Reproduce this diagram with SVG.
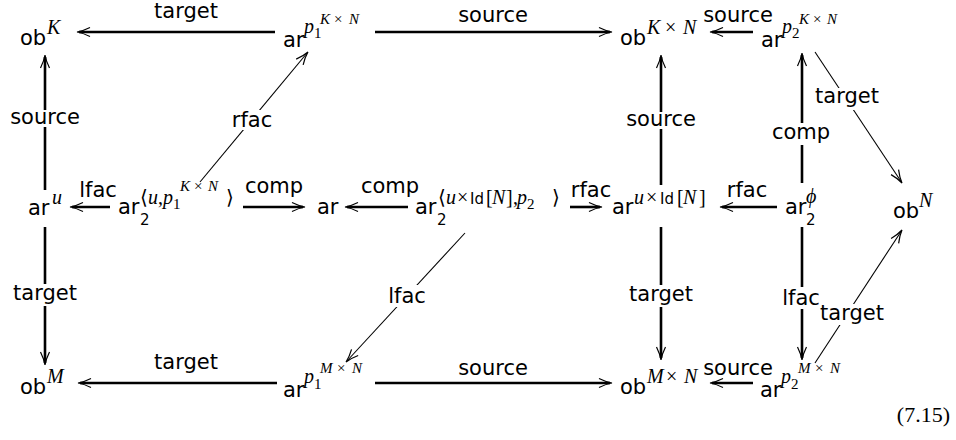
<svg xmlns="http://www.w3.org/2000/svg" width="956" height="440" viewBox="0 0 956 440">
<style>
.t{font-family:"DejaVu Sans",sans-serif;font-size:21px;fill:#000}
.c{text-anchor:middle}
.m{font-family:"Liberation Serif","DejaVu Serif",serif;font-style:italic;font-size:20px;fill:#000}
.s{font-size:15px}
.r{font-style:normal}
.sf{font-family:"DejaVu Sans",sans-serif;font-style:normal;font-size:15px}
.ab{font-family:"DejaVu Sans",sans-serif;font-style:normal;font-size:20px}
.k{stroke:#000;stroke-width:2.6;fill:none}
.d{stroke:#000;stroke-width:1.1;fill:none}
.ko{fill:#fff}
.eq{font-family:"Liberation Serif",serif;font-size:22px;text-anchor:end;fill:#000}
</style>
<defs>
<marker id="ah" markerUnits="userSpaceOnUse" viewBox="-14 -6 17 12" refX="0" refY="0" markerWidth="17" markerHeight="12" orient="auto" overflow="visible"><path d="M-11,-4.5 Q-4,-1 2,0 Q-4,1 -11,4.5" fill="none" stroke="#000" stroke-width="1.2"/></marker>
</defs>
<rect width="956" height="440" fill="#fff"/>
<g id="connectors">
<g id="e-target-top"><path class="k" d="M275,32H79" marker-end="url(#ah)"/><text class="t c" x="186" y="18">target</text></g>
<g id="e-source-top"><path class="k" d="M375,32H610" marker-end="url(#ah)"/><text class="t c" x="493" y="22">source</text></g>
<g id="e-source-topr"><path class="k" d="M753,32H712" marker-end="url(#ah)"/><text class="t c" x="738" y="22">source</text></g>
<g id="e-lfac-mid"><path class="k" d="M110,207H72" marker-end="url(#ah)"/><text class="t c" x="98" y="197">lfac</text></g>
<g id="e-comp-r"><path class="k" d="M243,207H303" marker-end="url(#ah)"/><text class="t c" x="274" y="193">comp</text></g>
<g id="e-comp-l"><path class="k" d="M408,207H347" marker-end="url(#ah)"/><text class="t c" x="390" y="193">comp</text></g>
<g id="e-rfac-r"><path class="k" d="M570,207H600" marker-end="url(#ah)"/><text class="t c" x="591" y="197">rfac</text></g>
<g id="e-rfac-l"><path class="k" d="M777,207H722" marker-end="url(#ah)"/><text class="t c" x="747" y="197">rfac</text></g>
<g id="e-target-bot"><path class="k" d="M277,383H80" marker-end="url(#ah)"/><text class="t c" x="186" y="369">target</text></g>
<g id="e-source-bot"><path class="k" d="M375,383H610" marker-end="url(#ah)"/><text class="t c" x="493" y="375">source</text></g>
<g id="e-source-botr"><path class="k" d="M753,383H712" marker-end="url(#ah)"/><text class="t c" x="738" y="375">source</text></g>
<g id="e-source-c1"><path class="k" d="M45,190V57" marker-end="url(#ah)"/><rect class="ko" x="10" y="110" width="70" height="17"/><text class="t c" x="45" y="124">source</text></g>
<g id="e-target-c1"><path class="k" d="M45,227V363" marker-end="url(#ah)"/><rect class="ko" x="12" y="284" width="66" height="22"/><text class="t c" x="45" y="300">target</text></g>
<g id="e-source-c3"><path class="k" d="M661,185V57" marker-end="url(#ah)"/><rect class="ko" x="626" y="112" width="70" height="17"/><text class="t c" x="661" y="126">source</text></g>
<g id="e-target-c3"><path class="k" d="M661,227V358" marker-end="url(#ah)"/><rect class="ko" x="628" y="285" width="66" height="22"/><text class="t c" x="661" y="301">target</text></g>
<g id="e-comp-c4"><path class="k" d="M802,183V55" marker-end="url(#ah)"/><rect class="ko" x="771" y="123" width="62" height="22"/><text class="t c" x="801" y="139">comp</text></g>
<g id="e-lfac-c4"><path class="k" d="M802,227V358" marker-end="url(#ah)"/><rect class="ko" x="781" y="287" width="41" height="22"/><text class="t c" x="801" y="305">lfac</text></g>
<g id="e-rfac-diag"><path class="d" d="M200,182L306.7,53.5" marker-end="url(#ah)"/><rect class="ko" x="231" y="110" width="42" height="20"/><text class="t c" x="252" y="127">rfac</text></g>
<g id="e-lfac-diag"><path class="d" d="M465,233L347.4,360.5" marker-end="url(#ah)"/><rect class="ko" x="386" y="285" width="43" height="22"/><text class="t c" x="407" y="303">lfac</text></g>
<g id="e-target-diag1"><path class="d" d="M815,52L900.9,181.3" marker-end="url(#ah)"/><rect class="ko" x="814" y="88" width="66" height="22"/><text class="t c" x="847" y="103">target</text></g>
<g id="e-target-diag2"><path class="d" d="M815,363L900.9,231.7" marker-end="url(#ah)"/><rect class="ko" x="820" y="304" width="64" height="21"/><text class="t c" x="852" y="320">target</text></g>
</g>
<g id="n-obK"><text class="t" x="20" y="45">ob</text><text class="m" x="47" y="34">K</text></g>
<g id="n-ar-p1KN"><text class="t" x="283" y="47">ar</text><text class="m" x="304" y="33">p</text><text class="m r s" x="314" y="38">1</text><text class="m s" y="24"><tspan x="320">K</tspan><tspan class="r" x="334">×</tspan><tspan x="349">N</tspan></text></g>
<g id="n-obKN"><text class="t" x="620" y="45">ob</text><text class="m" y="34"><tspan x="647">K</tspan><tspan class="r" x="665">×</tspan><tspan x="683">N</tspan></text></g>
<g id="n-ar-p2KN"><text class="t" x="761" y="47">ar</text><text class="m" x="782" y="33">p</text><text class="m r s" x="792" y="38">2</text><text class="m s" y="24"><tspan x="799">K</tspan><tspan class="r" x="813">×</tspan><tspan x="827">N</tspan></text></g>
<g id="n-ar-u"><text class="t" x="28" y="215">ar</text><text class="m" x="52" y="204">u</text></g>
<g id="n-ar2-up1"><text class="t" x="118" y="214">ar</text><text class="sf" x="140" y="225">2</text><text class="m" y="204"><tspan class="ab" x="140">⟨</tspan><tspan x="148">u</tspan><tspan class="r" x="158">,</tspan><tspan x="163">p</tspan></text><text class="m r s" x="173" y="209">1</text><text class="m s" y="191"><tspan x="180">K</tspan><tspan class="r" x="194">×</tspan><tspan x="208">N</tspan></text><text class="ab" x="226" y="204">⟩</text></g>
<g id="n-ar"><text class="t" x="317" y="214">ar</text></g>
<g id="n-ar2-uId"><text class="t" x="415" y="214">ar</text><text class="sf" x="437" y="225">2</text><text class="m" y="204"><tspan class="ab" x="438">⟨</tspan><tspan x="446">u</tspan><tspan class="r" x="457">×</tspan><tspan class="sf" x="470">Id</tspan><tspan class="r" x="486">[</tspan><tspan x="492">N</tspan><tspan class="r" x="506">]</tspan><tspan class="r" x="513">,</tspan><tspan x="517">p</tspan></text><text class="m r s" x="527" y="209">2</text><text class="ab" x="552" y="204">⟩</text></g>
<g id="n-ar-uId"><text class="t" x="612" y="214">ar</text><text class="m" y="204"><tspan x="634">u</tspan><tspan class="r" x="646">×</tspan><tspan class="sf" x="660">Id</tspan><tspan class="r" x="677">[</tspan><tspan x="683">N</tspan><tspan class="r" x="699">]</tspan></text></g>
<g id="n-ar2-phi"><text class="t" x="785" y="214">ar</text><text class="m" x="806" y="203">ϕ</text><text class="sf" x="806" y="225">2</text></g>
<g id="n-obN"><text class="t" x="893" y="218">ob</text><text class="m" x="919" y="207">N</text></g>
<g id="n-obM"><text class="t" x="20" y="394">ob</text><text class="m" x="47" y="383">M</text></g>
<g id="n-ar-p1MN"><text class="t" x="283" y="397">ar</text><text class="m" x="304" y="383">p</text><text class="m r s" x="314" y="389">1</text><text class="m s" y="373"><tspan x="320">M</tspan><tspan class="r" x="337">×</tspan><tspan x="352">N</tspan></text></g>
<g id="n-obMN"><text class="t" x="620" y="394">ob</text><text class="m" y="383"><tspan x="647">M</tspan><tspan class="r" x="666">×</tspan><tspan x="684">N</tspan></text></g>
<g id="n-ar-p2MN"><text class="t" x="760" y="397">ar</text><text class="m" x="781" y="383">p</text><text class="m r s" x="791" y="389">2</text><text class="m s" y="373"><tspan x="798">M</tspan><tspan class="r" x="815">×</tspan><tspan x="830">N</tspan></text></g>
<g id="eqno"><text class="eq" x="950" y="422">(7.15)</text></g>
</svg>
